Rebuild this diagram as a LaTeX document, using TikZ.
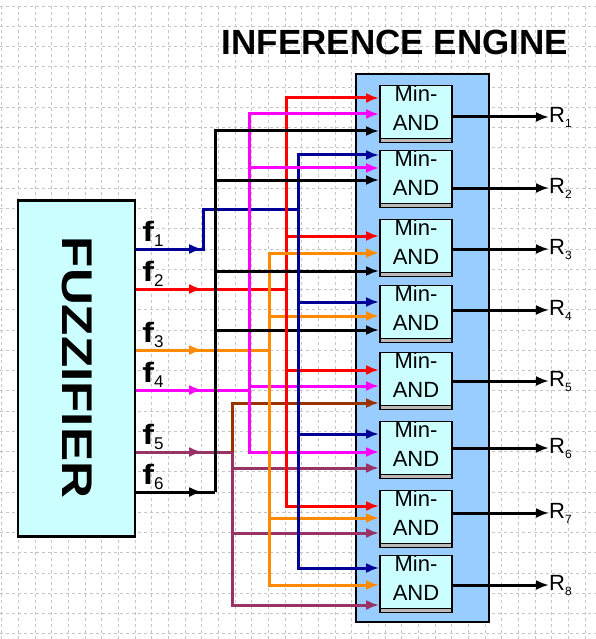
\documentclass[tikz,border=0pt]{standalone}
\usepackage{fontspec}
\setmainfont{Liberation Sans}
\usetikzlibrary{arrows.meta, shadows}

\definecolor{fuzzcyan}{HTML}{CCFFFF}
\definecolor{enginebl}{HTML}{99CCFF}
\definecolor{wnavy}{HTML}{000099}
\definecolor{wred}{HTML}{FF0000}
\definecolor{worange}{HTML}{FF8A00}
\definecolor{wmag}{HTML}{FF00FF}
\definecolor{wplum}{HTML}{993366}
\definecolor{wbrown}{HTML}{993300}

\newcommand{\subidx}[2]{\raisebox{-5pt}{\fontsize{#1}{#1}\selectfont #2}}

\tikzset{
  gridline/.style={gray!45, dashed, line width=0.7pt},
  wire/.style={line width=3pt, color=#1},
  tap/.style={wire=#1, -{Latex[length=13pt,width=10pt]}},
  andbox/.style={draw=black, line width=1.8pt, fill=fuzzcyan,
    minimum width=72pt, minimum height=48pt, inner sep=0pt, align=center,
    font=\fontsize{22}{29}\selectfont,
    copy shadow={shadow xshift=0pt, shadow yshift=-4pt, draw=black,
      fill=gray!55, line width=1.8pt}},
  rlabel/.style={anchor=west, inner sep=0pt, font=\fontsize{22}{22}\selectfont},
  flabel/.style={anchor=base west, inner sep=0pt}
}

\begin{document}
\begin{tikzpicture}[x=1pt, y=-1pt]
            \useasboundingbox (0,0) rectangle (596,639);
            % Grid paper behind everything
            \foreach \i in {0,1,...,35}
                \draw[gridline] (1.7+16.67*\i,6) -- (1.7+16.67*\i,639);
            \foreach \j in {0,1,...,31}
                \draw[gridline] (0,6+20.25*\j) -- (596,6+20.25*\j);

            % Inference engine panel and title
            \node[draw, line width=2.8pt, fill=enginebl, minimum width=133pt,
                minimum height=548pt, inner sep=0pt] (engine) at (422.5,348) {};
            \node[font=\bfseries\fontsize{35}{35}\selectfont] (title) at (395,42) {INFERENCE ENGINE};

            % Fuzzifier block
            \node[draw, line width=2.4pt, fill=fuzzcyan, minimum width=117pt,
                minimum height=336pt, inner sep=0pt] (fuzz) at (76.5,368.5) {};
            \node[rotate=-90, font=\bfseries\fontsize{43}{43}\selectfont] (fuzztext)
                at (77.5,367.5) {\scalebox{1.19}[1]{FUZZIFIER}};

            % Fuzzifier ports, labels and bus corners
            \foreach \k/\y in {1/249, 2/289, 3/350, 4/390, 5/452, 6/492} {
                \coordinate (p\k) at (fuzz.east |- 0,\y);
                \node[flabel] (lf\k) at ([xshift=6pt, yshift=8pt]p\k)
                    {\bfseries\fontsize{28}{28}\selectfont\scalebox{1.25}[1]{f}\subidx{17}{\mdseries\k}};
            }
            \coordinate (b1) at (298,209);
            \coordinate (b2) at (286,289);
            \coordinate (b3) at (269,350);
            \coordinate (b4) at (249,390);
            \coordinate (b5) at (232,452);
            \coordinate (b6) at (215,492);

            % Min-AND gates
            \foreach \k/\y in {1/112, 2/177, 3/246, 4/312, 5/379, 6/448, 7/517, 8/582}
                \node[andbox] (and\k) at (416,\y) {Min-\\AND\rule[-8pt]{0pt}{0pt}};

            % Feed lines from the fuzzifier to the buses
            \draw[wire=wnavy] (p1) -- ++(67,0) |- (b1);
            \foreach \k/\col in {2/wred, 3/worange, 4/wmag, 5/wplum, 6/black}
                \draw[wire=\col] (p\k) -- (b\k);
            \foreach \k/\col in {1/wnavy, 2/wred, 3/worange, 4/wmag, 5/wplum, 6/black}
                \draw[tap=\col] (p\k) -- ++(66,0);

            % Taps from the buses into the gates
            \foreach \bus/\gate/\y/\col in {
                b2/and1/98/wred, b4/and1/114/wmag, b6/and1/131/black,
                b1/and2/155/wnavy, b4/and2/168/wmag, b6/and2/180/black,
                b2/and3/236/wred, b3/and3/253/worange, b6/and3/271/black,
                b1/and4/302/wnavy, b3/and4/316/worange, b6/and4/330/black,
                b2/and5/370/wred, b4/and5/386/wmag, b5/and5/403/wbrown,
                b1/and6/434/wnavy, b4/and6/452/wmag, b5/and6/468/wplum,
                b2/and7/506/wred, b3/and7/518/worange, b5/and7/533/wplum,
                b1/and8/568/wnavy, b3/and8/585/worange, b5/and8/605/wplum}
                \draw[tap=\col] (\bus) |- (\gate.west |- 0,\y);

            % Rule outputs
            \foreach \k/\y in {1/117, 2/188, 3/249, 4/310, 5/381, 6/448, 7/513, 8/585} {
                \node[rlabel] (r\k) at (549,\y) {R\subidx{12}{\k}};
                \draw[tap=black] (and\k.east |- r\k.west) -- (r\k.west);
            }
        \end{tikzpicture}
\end{document}
